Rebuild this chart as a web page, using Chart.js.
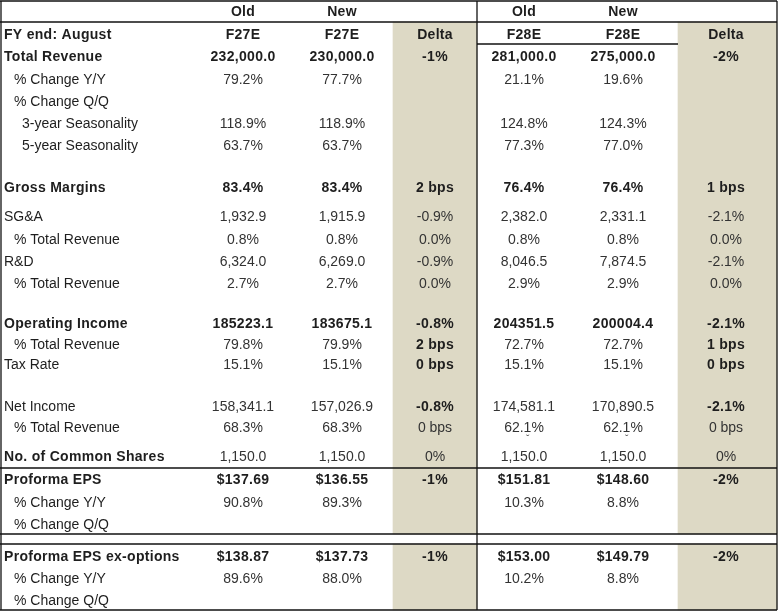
<!DOCTYPE html>
<html>
<head>
<meta charset="utf-8">
<script src="https://cdn.jsdelivr.net/npm/chart.js@4"></script>
<style>
  html, body { margin:0; padding:0; background:#ffffff; }
  #wrap { width:779px; height:612px; position:relative; }
</style>
</head>
<body>
<div id="wrap"><canvas id="c"></canvas></div>
<script>
// ---------- DATA ----------
const headerTop    = ['Old', 'New', '', 'Old', 'New', ''];
const headerPeriod = ['F27E', 'F27E', 'Delta', 'F28E', 'F28E', 'Delta'];
const headerLabel  = 'FY end: August';

const rowLabels = ['Total Revenue','% Change Y/Y','% Change Q/Q','3-year Seasonality','5-year Seasonality',
  'Gross Margins','SG&A','% Total Revenue','R&D','% Total Revenue',
  'Operating Income','% Total Revenue','Tax Rate','Net Income','% Total Revenue','No. of Common Shares',
  'Proforma EPS','% Change Y/Y','% Change Q/Q',
  'Proforma EPS ex-options','% Change Y/Y','% Change Q/Q'];
const rowIndent = [0,1,1,2,2, 0,0,1,0,1, 0,1,0,0,1,0, 0,1,1, 0,1,1];

const f27Old   = ['232,000.0','79.2%','','118.9%','63.7%','83.4%','1,932.9','0.8%','6,324.0','2.7%','185223.1','79.8%','15.1%','158,341.1','68.3%','1,150.0','$137.69','90.8%','','$138.87','89.6%',''];
const f27New   = ['230,000.0','77.7%','','118.9%','63.7%','83.4%','1,915.9','0.8%','6,269.0','2.7%','183675.1','79.9%','15.1%','157,026.9','68.3%','1,150.0','$136.55','89.3%','','$137.73','88.0%',''];
const f27Delta = ['-1%','','','','','2 bps','-0.9%','0.0%','-0.9%','0.0%','-0.8%','2 bps','0 bps','-0.8%','0 bps','0%','-1%','','','-1%','',''];
const f28Old   = ['281,000.0','21.1%','','124.8%','77.3%','76.4%','2,382.0','0.8%','8,046.5','2.9%','204351.5','72.7%','15.1%','174,581.1','62.1%','1,150.0','$151.81','10.3%','','$153.00','10.2%',''];
const f28New   = ['275,000.0','19.6%','','124.3%','77.0%','76.4%','2,331.1','0.8%','7,874.5','2.9%','200004.4','72.7%','15.1%','170,890.5','62.1%','1,150.0','$148.60','8.8%','','$149.79','8.8%',''];
const f28Delta = ['-2%','','','','','1 bps','-2.1%','0.0%','-2.1%','0.0%','-2.1%','1 bps','0 bps','-2.1%','0 bps','0%','-2%','','','-2%','',''];

const boldLabelRows = [0,5,10,15,16,19];
const boldValueRows = [0,5,10,16,19];
const boldDeltaRows = [0,5,10,11,12,13,16,19];

// small stray marks printed under the F28E Net Income % Total Revenue cells
const noteRow = 14;
const noteMarks = ['', '', '', '˘', '˘', ''];

// ---------- LAYOUT (table geometry in scale units) ----------
const W = 779, H = 612;
const rowCenters = [57,80,102,124,146, 188,217,240,262,284, 324,345,365,407,428,457, 480,503,525, 557,579,601];
const headerRows = [12, 35];
const colCenters = [243, 342, 435, 524, 623, 726];
const noteShift = [0, 0, 0, 4, 4, 0];
const labelX = [4, 14, 22];
const deltaCols = [[393, 477], [678, 777]];
const shadeSpans = [[22, 534], [544, 610]];
const hLines = [[1, 0, 777], [22, 0, 777], [44, 477, 678], [468, 0, 777], [534, 0, 777], [544, 0, 777], [610, 0, 777]];
const vLines = [[1, 1, 610], [477, 1, 610], [777, 1, 610]];

const cols = [f27Old, f27New, f27Delta, f28Old, f28New, f28Delta];
const isDelta = [false, false, true, false, false, true];

const shadeDatasets = deltaCols.map(([a, b]) => ({
  type: 'bar',
  data: shadeSpans.map(([t, bt]) => ({ x: (a + b) / 2, y: [t, bt] })),
  backgroundColor: '#ddd9c5',
  borderWidth: 0,
  barThickness: b - a,
  grouped: false
}));

const FONT = '"Liberation Sans", Arial, sans-serif';
const tablePlugin = {
  id: 'tableText',
  afterDatasetsDraw(chart) {
    const ctx = chart.ctx, xs = chart.scales.x, ys = chart.scales.y;
    const px = v => xs.getPixelForValue(v), py = v => ys.getPixelForValue(v);
    ctx.save();
    // grid / border lines
    ctx.strokeStyle = '#111';
    ctx.lineWidth = 1.3;
    hLines.forEach(([y, x0, x1]) => { ctx.beginPath(); ctx.moveTo(px(x0), py(y)); ctx.lineTo(px(x1), py(y)); ctx.stroke(); });
    vLines.forEach(([x, y0, y1]) => { ctx.beginPath(); ctx.moveTo(px(x), py(y0)); ctx.lineTo(px(x), py(y1)); ctx.stroke(); });

    ctx.fillStyle = '#1e1e1e';
    ctx.textBaseline = 'middle';
    const setFont = (b, size) => {
      ctx.font = (b ? 'bold ' : '') + (size || 14) + 'px ' + FONT;
      ctx.letterSpacing = b ? '0.3px' : '0px';
    };
    // headers
    ctx.textAlign = 'center';
    setFont(true);
    headerTop.forEach((t, i) => { if (t) ctx.fillText(t, px(colCenters[i]), py(headerRows[0])); });
    headerPeriod.forEach((t, i) => ctx.fillText(t, px(colCenters[i]), py(headerRows[1])));
    ctx.textAlign = 'left';
    ctx.fillText(headerLabel, px(labelX[0]), py(headerRows[1]));
    // body rows
    rowLabels.forEach((lab, r) => {
      const y = py(rowCenters[r]);
      ctx.textAlign = 'left';
      setFont(boldLabelRows.includes(r));
      ctx.fillStyle = '#1e1e1e';
      ctx.fillText(lab, px(labelX[rowIndent[r]]), y);
      ctx.textAlign = 'center';
      cols.forEach((col, c) => {
        const v = col[r];
        if (!v) return;
        const b = isDelta[c] ? boldDeltaRows.includes(r) : boldValueRows.includes(r);
        setFont(b);
        ctx.fillStyle = b ? '#1e1e1e' : '#333';
        ctx.fillText(v, px(colCenters[c]), y);
      });
    });
    // stray marks
    setFont(false, 10);
    ctx.fillStyle = '#555';
    noteMarks.forEach((m, c) => {
      if (m) ctx.fillText(m, px(colCenters[c] + noteShift[c]), py(rowCenters[noteRow]) + 11);
    });
    ctx.restore();
  }
};

new Chart(document.getElementById('c'), {
  data: { datasets: shadeDatasets },
  options: {
    responsive: true,
    maintainAspectRatio: false,
    animation: false,
    layout: { padding: 0 },
    plugins: { legend: { display: false }, tooltip: { enabled: false } },
    events: [],
    scales: {
      x: { type: 'linear', min: 0, max: W, offset: false, display: false },
      y: { type: 'linear', min: 0, max: H, reverse: true, offset: false, display: false }
    }
  },
  plugins: [tablePlugin]
});
</script>
</body>
</html>
